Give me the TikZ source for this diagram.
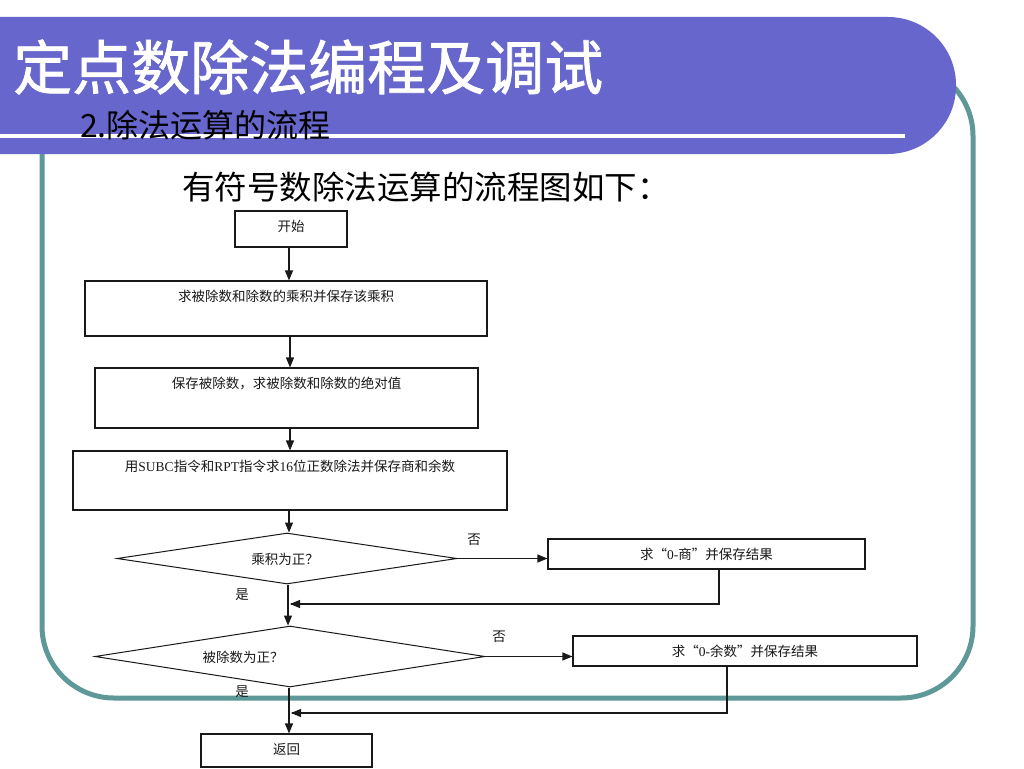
\documentclass[tikz,border=0pt]{standalone}
\usepackage{fontspec}
\setmainfont{Liberation Serif}
\newfontfamily\cjk{Noto Sans CJK SC}
\newfontfamily\cjkt[FakeBold=1.3]{Noto Sans CJK SC}
\usetikzlibrary{shapes.geometric,arrows.meta}
\definecolor{hdr}{RGB}{102,102,204}
\definecolor{frm}{RGB}{95,152,152}
\definecolor{ink}{RGB}{25,25,25}
\begin{document}
\begin{tikzpicture}[x=1pt,y=-1pt,
  box/.style={draw=ink, line width=1.1pt, inner sep=0pt, text height=20pt,
    font=\fontsize{13.5}{15}\selectfont, text=ink},
  dia/.style={draw=ink, line width=1pt, shape=diamond, inner sep=0pt},
  lbl/.style={inner sep=0pt, font=\fontsize{13.5}{15}\selectfont\cjk, text=ink},
  arr/.style={draw=ink, line width=1.1pt, -{Triangle[length=10pt,width=8pt]}},
  ln/.style={draw=ink, line width=1.1pt}]
\useasboundingbox (0,0) rectangle (1024,768);
\clip (0,0) rectangle (1024,768);
\fill[white] (0,0) rectangle (1024,768);
% frame
\draw[frm, line width=5pt, rounded corners=72] (42,64) rectangle (973,698);
% header
\fill[hdr, rounded corners=68] (-120,17) rectangle (956,154);
\draw[white, line width=4pt] (-5,136) -- (905,136);
\node[anchor=west, inner sep=0pt, text=white, font=\fontsize{59}{62}\selectfont\cjkt] (title) at (13,67) {定点数除法编程及调试};
\node[anchor=west, inner sep=0pt, text=black, font=\fontsize{32}{34}\selectfont\cjk] (sub) at (80,125) {2.除法运算的流程};
\node[anchor=west, inner sep=0pt, text=black, font=\fontsize{32.5}{34}\selectfont\cjk] (head) at (182,187) {有符号数除法运算的流程图如下：};
% flowchart nodes
\node[box, minimum width=112pt, text depth=16pt] (start) at (291,229) {\cjk 开始};
\node[box, minimum width=402pt, text depth=35pt] (b2) at (286,308.5) {\cjk 求被除数和除数的乘积并保存该乘积};
\node[box, minimum width=383pt, text depth=40pt] (b3) at (286.5,398) {\cjk 保存被除数，求被除数和除数的绝对值};
\node[box, minimum width=434pt, text depth=39pt] (b4) at (290,480.5) {{\cjk 用}SUBC{\cjk 指令和}RPT{\cjk 指令求}16{\cjk 位正数除法并保存商和余数}};
\node[dia, minimum width=340pt, minimum height=51pt] (d1) at (287,558.5) {};
\node[lbl] (d1t) at (285,559) {乘积为正？};
\node[box, minimum width=317pt, text depth=10pt] (b5) at (706.5,554) {{\cjk 求“}0-{\cjk 商”并保存结果}};
\node[dia, minimum width=390pt, minimum height=61pt] (d2) at (290,656.5) {};
\node[lbl] (d2t) at (243,657) {被除数为正？};
\node[box, minimum width=344pt, text depth=10pt] (b6) at (745,651) {{\cjk 求“}0-{\cjk 余数”并保存结果}};
\node[box, minimum width=171pt, text depth=13pt] (ret) at (286.5,750.5) {\cjk 返回};
% labels
\node[lbl] (no1) at (474,540) {否};
\node[lbl] (yes1) at (242,595) {是};
\node[lbl] (no2) at (499,637) {否};
\node[lbl] (yes2) at (242,692) {是};
% connectors
\coordinate (m1) at (289,604);
\coordinate (m2) at (290,713);
\draw[arr] ([xshift=-2pt]start.south) -- ([xshift=-2pt]start.south |- b2.north);
\draw[arr] ([xshift=4pt]b2.south) -- ([xshift=4pt]b2.south |- b3.north);
\draw[arr] ([xshift=3.5pt]b3.south) -- ([xshift=3.5pt]b3.south |- b4.north);
\draw[arr] ([xshift=-1pt]b4.south) -- ([xshift=-1pt]b4.south |- d1.north);
\draw[arr] (d1.east) -- (d1.east -| b5.west);
\draw[ln] ([xshift=12.5pt]b5.south) |- ([xshift=1.5pt]m1);
\draw[arr] ([xshift=12pt]m1) -- ([xshift=1pt]m1);
\draw[arr] ([xshift=1pt]d1.south) -- ([xshift=1pt]d1.south |- d2.north);
\draw[arr] (d2.east) -- (d2.east -| b6.west);
\draw[ln] ([xshift=-18pt]b6.south) |- ([xshift=1.5pt]m2);
\draw[arr] ([xshift=12pt]m2) -- ([xshift=1pt]m2);
\draw[arr] ([xshift=-1pt]d2.south) -- ([xshift=-1pt]d2.south |- ret.north);
\end{tikzpicture}
\end{document}
